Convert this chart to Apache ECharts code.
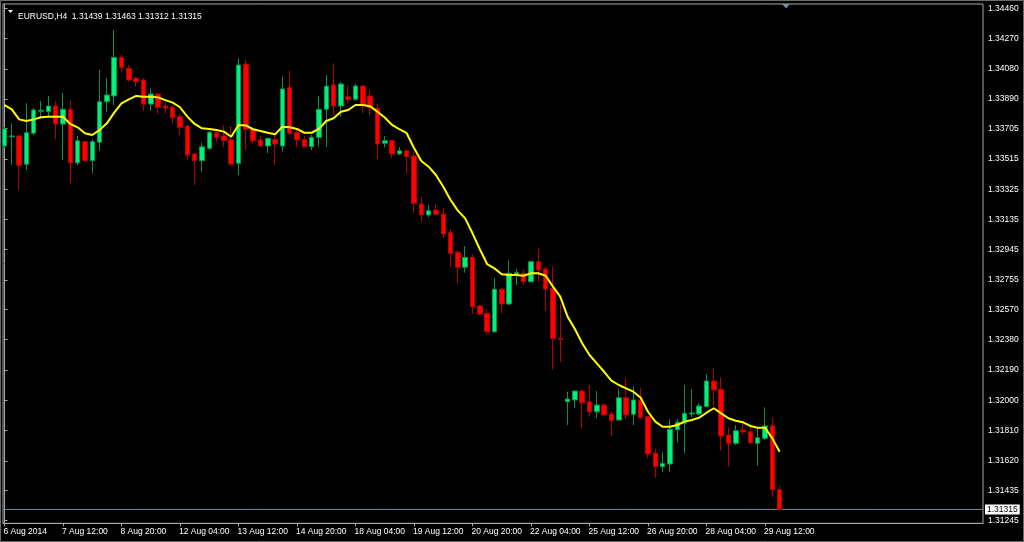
<!DOCTYPE html>
<html><head><meta charset="utf-8">
<script src="https://cdn.jsdelivr.net/npm/echarts@6/dist/echarts.min.js"></script>
<style>html,body{margin:0;padding:0;background:#000;overflow:hidden}#c{width:1024px;height:542px;}</style>
</head><body><div id="c"></div>
<script>
const symbolName = 'EURUSD,H4';
const tickIndex = [0, 8, 16, 24, 32, 40, 48, 56, 64, 72, 80, 88, 96, 104];
const tickLabels = ['6 Aug 2014', '7 Aug 12:00', '8 Aug 20:00', '12 Aug 04:00', '13 Aug 12:00', '14 Aug 20:00', '18 Aug 04:00', '19 Aug 12:00', '20 Aug 20:00', '22 Aug 04:00', '25 Aug 12:00', '26 Aug 20:00', '28 Aug 04:00', '29 Aug 12:00'];
const priceTicks = [1.34460, 1.34270, 1.34080, 1.33890, 1.33705, 1.33515, 1.33325, 1.33135, 1.32945, 1.32755, 1.32570, 1.32380, 1.32190, 1.32000, 1.31810, 1.31620, 1.31435, 1.31245];
const bidPrice = 1.31315;
const xMin = -0.205, xMax = 133.81;
const yMin = 1.31228, yMax = 1.34487;

const open = [1.33596,1.33654,1.33659,1.33481,1.33676,1.33814,1.33811,1.33847,1.33734,1.33826,
1.33490,1.33623,1.33504,1.33619,1.33874,1.33910,1.34152,1.34083,1.34021,1.34010,
1.33859,1.33922,1.33847,1.33839,1.33780,1.33721,1.33546,1.33504,1.33581,1.33679,
1.33659,1.33634,1.33487,1.34110,1.33701,1.33634,1.33596,1.33637,1.33596,1.33962,
1.33679,1.33637,1.33591,1.33650,1.33826,1.33979,1.33847,1.33905,1.33889,1.33972,
1.33910,1.33832,1.33613,1.33629,1.33546,1.33566,1.33533,1.33232,1.33163,1.33194,
1.33169,1.33052,1.32929,1.32835,1.32897,1.32592,1.32546,1.32430,1.32697,1.32604,
1.32786,1.32797,1.32744,1.32870,1.32824,1.32703,1.32389,1.31991,1.32002,1.32058,
1.31991,1.31928,1.31970,1.31914,1.31876,1.32016,1.31912,1.32002,1.31897,1.31667,
1.31583,1.31600,1.31815,1.31856,1.31914,1.31914,1.31960,1.32121,1.32069,1.31782,
1.31730,1.31813,1.31802,1.31730,1.31761,1.31839,1.31439];
const high = [1.33715,1.33738,1.33665,1.33864,1.33834,1.33878,1.33910,1.33878,1.33927,1.33884,
1.33659,1.33629,1.33637,1.34073,1.34021,1.34324,1.34171,1.34104,1.34031,1.34021,
1.33958,1.33927,1.33874,1.33853,1.33797,1.33728,1.33550,1.33617,1.33692,1.33684,
1.33726,1.33721,1.34146,1.34136,1.33703,1.33659,1.33646,1.33679,1.34031,1.34068,
1.33696,1.33659,1.33665,1.33910,1.34041,1.34115,1.33999,1.33972,1.33985,1.33975,
1.33947,1.33859,1.33659,1.33634,1.33588,1.33571,1.33560,1.33274,1.33226,1.33232,
1.33205,1.33073,1.32943,1.32968,1.32918,1.32598,1.32571,1.32766,1.32707,1.32880,
1.32824,1.32818,1.32876,1.32958,1.32838,1.32838,1.32604,1.32054,1.32060,1.32069,
1.32096,1.32058,1.31981,1.31928,1.32069,1.32138,1.32085,1.32075,1.31901,1.31694,
1.31674,1.31881,1.31881,1.32096,1.32069,1.31981,1.32163,1.32201,1.32144,1.31830,
1.31845,1.31856,1.31830,1.31828,1.31956,1.31891,1.31463];
const low = [1.33583,1.33477,1.33320,1.33445,1.33665,1.33770,1.33780,1.33637,1.33508,1.33362,
1.33475,1.33497,1.33424,1.33566,1.33811,1.33853,1.34056,1.33999,1.33968,1.33817,
1.33817,1.33797,1.33801,1.33738,1.33665,1.33508,1.33351,1.33435,1.33571,1.33623,
1.33588,1.33470,1.33414,1.33571,1.33613,1.33591,1.33550,1.33477,1.33560,1.33665,
1.33591,1.33588,1.33571,1.33591,1.33591,1.33790,1.33780,1.33864,1.33880,1.33801,
1.33790,1.33514,1.33588,1.33519,1.33539,1.33424,1.33177,1.33121,1.33148,1.33163,
1.33017,1.32838,1.32734,1.32801,1.32541,1.32535,1.32410,1.32424,1.32546,1.32598,
1.32723,1.32723,1.32740,1.32744,1.32562,1.32194,1.32242,1.31845,1.31950,1.31824,
1.31897,1.31887,1.31906,1.31776,1.31872,1.31881,1.31845,1.31887,1.31636,1.31514,
1.31552,1.31552,1.31736,1.31667,1.31893,1.31908,1.31956,1.31970,1.31684,1.31583,
1.31719,1.31788,1.31726,1.31588,1.31751,1.31391,1.31312];
const close = [1.33703,1.33659,1.33475,1.33679,1.33822,1.33820,1.33847,1.33734,1.33826,1.33490,
1.33629,1.33504,1.33623,1.33874,1.33916,1.34152,1.34090,1.34010,1.33999,1.33859,
1.33922,1.33839,1.33834,1.33773,1.33713,1.33539,1.33504,1.33591,1.33682,1.33650,
1.33629,1.33483,1.34104,1.33701,1.33629,1.33596,1.33644,1.33608,1.33954,1.33676,
1.33634,1.33591,1.33650,1.33826,1.33972,1.33847,1.33985,1.33889,1.33972,1.33847,
1.33834,1.33608,1.33629,1.33546,1.33566,1.33529,1.33236,1.33163,1.33190,1.33167,
1.33044,1.32922,1.32835,1.32897,1.32587,1.32541,1.32430,1.32697,1.32604,1.32797,
1.32801,1.32744,1.32870,1.32818,1.32698,1.32389,1.32383,1.32008,1.32058,1.31985,
1.31928,1.31970,1.31908,1.31872,1.32016,1.31908,1.32002,1.31893,1.31663,1.31583,
1.31604,1.31818,1.31862,1.31918,1.31920,1.31964,1.32121,1.32065,1.31776,1.31730,
1.31809,1.31801,1.31734,1.31765,1.31839,1.31439,1.31315];
const ma = [1.33853,1.33826,1.33763,1.33753,1.33763,1.33776,1.33780,1.33780,1.33780,1.33734,
1.33713,1.33676,1.33665,1.33696,1.33738,1.33805,1.33864,1.33889,1.33910,1.33905,
1.33905,1.33901,1.33884,1.33868,1.33839,1.33780,1.33734,1.33707,1.33703,1.33696,
1.33686,1.33654,1.33728,1.33725,1.33701,1.33690,1.33679,1.33669,1.33717,1.33713,
1.33703,1.33679,1.33679,1.33703,1.33753,1.33770,1.33811,1.33822,1.33853,1.33853,
1.33845,1.33811,1.33775,1.33728,1.33701,1.33676,1.33583,1.33502,1.33466,1.33414,
1.33340,1.33257,1.33190,1.33142,1.33048,1.32948,1.32855,1.32828,1.32791,1.32786,
1.32786,1.32782,1.32797,1.32797,1.32782,1.32713,1.32650,1.32525,1.32447,1.32358,
1.32284,1.32232,1.32179,1.32123,1.32096,1.32075,1.32054,1.32016,1.31928,1.31866,
1.31834,1.31834,1.31845,1.31866,1.31876,1.31891,1.31922,1.31950,1.31918,1.31887,
1.31872,1.31862,1.31839,1.31828,1.31828,1.31761,1.31677];

const FONT = 'Tahoma, "Liberation Sans", Arial, sans-serif';
const AXIS_COLOR = '#a8a8a8';
const FS = 8.5;
const last = open.length - 1;
const candleData = open.map((o, i) => [i, o, close[i], low[i], high[i]]);
const maData = ma.map((v, i) => [i, v]);
const bidLabel = bidPrice.toFixed(5);

const chart = echarts.init(document.getElementById('c'), null, {renderer: 'canvas'});
chart.setOption({
  backgroundColor: '#000000',
  animation: false,
  title: {
    text: symbolName + '  ' + [open[last], high[last], low[last], close[last]].map(v => v.toFixed(5)).join(' '),
    left: 13, top: 7,
    textStyle: {color: '#ffffff', fontSize: FS, fontWeight: 'normal', fontFamily: FONT}
  },
  graphic: [
    {type: 'rect', shape: {x: 0.5, y: 0.5, width: 1023, height: 541}, style: {fill: null, stroke: '#6a6a6a', lineWidth: 1}, silent: true},
    {type: 'polygon', shape: {points: [[8, 10], [13, 10], [10.5, 13]]}, style: {fill: '#ffffff'}, silent: true},
    {type: 'polygon', shape: {points: [[782, 4], [790, 4], [786, 8.5]]}, style: {fill: '#7c8aa0'}, silent: true}
  ],
  grid: {left: 3, right: 41, top: 4, bottom: 18.7, show: true, borderColor: AXIS_COLOR, borderWidth: 1, backgroundColor: 'transparent'},
  xAxis: {
    type: 'value', min: xMin, max: xMax,
    axisLine: {show: true, lineStyle: {color: AXIS_COLOR}},
    axisTick: {show: true, customValues: tickIndex, length: 3, lineStyle: {color: AXIS_COLOR}},
    axisLabel: {
      customValues: tickIndex,
      formatter: v => tickLabels[tickIndex.indexOf(v)],
      align: 'left', color: '#ffffff', fontSize: FS, fontFamily: FONT, margin: 4, padding: [0, 0, 0, -1]
    },
    splitLine: {show: false}
  },
  yAxis: {
    type: 'value', position: 'right', min: yMin, max: yMax, scale: true,
    axisLine: {show: true, lineStyle: {color: AXIS_COLOR}},
    axisTick: {show: true, customValues: priceTicks, length: 3, lineStyle: {color: AXIS_COLOR}},
    axisLabel: {customValues: priceTicks, formatter: v => v.toFixed(5), color: '#ffffff', fontSize: FS, fontFamily: FONT, margin: 5},
    splitLine: {show: false}
  },
  series: [
    {
      type: 'line', name: 'Bid',
      data: [[xMin, bidPrice], [xMax, bidPrice]],
      showSymbol: false, symbol: 'none', silent: true,
      lineStyle: {color: '#778899', width: 1},
      itemStyle: {color: '#778899'},
      z: 1,
      endLabel: {show: true, formatter: bidLabel, distance: 2, backgroundColor: '#ffffff', color: '#000000', fontSize: FS, fontFamily: FONT, padding: [1, 2, 0, 2]}
    },
    {
      type: 'candlestick', name: symbolName,
      data: candleData,
      encode: {x: 0, y: [1, 2, 3, 4]},
      barWidth: 5,
      z: 2,
      itemStyle: {color: '#00F07C', color0: '#FF0000', borderColor: '#0A9448', borderColor0: '#B80000', borderWidth: 1}
    },
    {
      type: 'line', name: 'MA',
      data: maData,
      showSymbol: false, symbol: 'none',
      lineStyle: {color: '#FFFF00', width: 2},
      itemStyle: {color: '#FFFF00'},
      z: 3
    }
  ]
});
</script>
</body></html>
